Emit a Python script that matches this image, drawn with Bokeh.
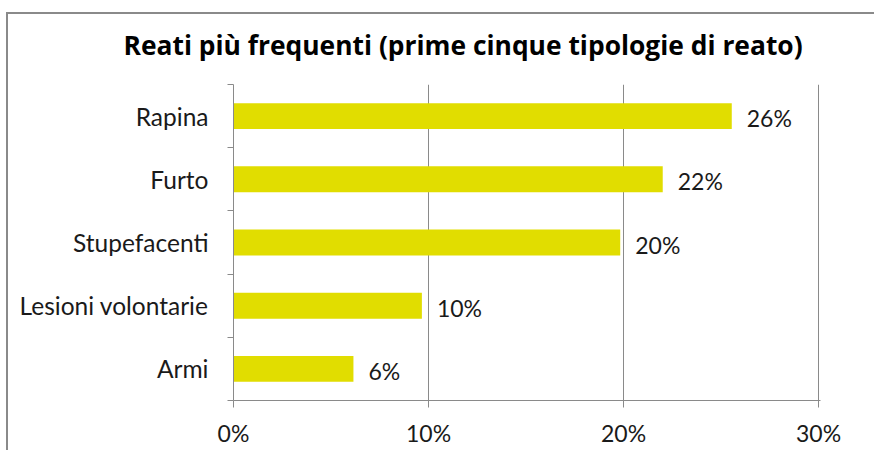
from bokeh.plotting import figure
from bokeh.models import Range1d, FixedTicker, ColumnDataSource
from bokeh.embed import file_html
from bokeh.resources import INLINE
from bokeh.core.properties import value

# ---- data ----
categories = ["Armi", "Lesioni volontarie", "Stupefacenti", "Furto", "Rapina"]
values = [6.15, 9.66, 19.83, 22.01, 25.55]
x_ticks = [0, 10, 20, 30]
x_tick_labels = ["0%", "10%", "20%", "30%"]
title_text = "Reati più frequenti (prime cinque tipologie di reato)"

positions = [i + 0.5 for i in range(len(categories))]
boundaries = list(range(len(categories) + 1))
labels = [f"{round(v)}%" for v in values]

src = ColumnDataSource(dict(y=positions, v=values, lab=labels))

FONT = "Lato"
GRAY = "#8a8a8a"
TXT = "#1a1a1a"

p = figure(
    frame_width=587, frame_height=316,
    min_border_left=227, min_border_right=54,
    min_border_top=84, min_border_bottom=50,
    x_range=Range1d(0, 30.1), y_range=Range1d(0, 5),
    output_backend="svg", toolbar_location=None,
    title=title_text,
)
# outer chart-area border (left and top edges visible in the window)
p.styles = {
    "margin-top": "0px",
    "margin-left": "6px",
    "background-image": f"linear-gradient({GRAY}, {GRAY}), linear-gradient({GRAY}, {GRAY})",
    "background-size": "100% 2px, 2px 100%",
    "background-position": "0 12px, 0 12px",
    "background-repeat": "no-repeat",
}

p.title.text_font = "Open Sans"
p.title.text_font_size = "26.4px"
p.title.text_font_style = "bold"
p.title.text_color = "#000000"
p.title.align = "left"
p.title.offset = -110
p.title.standoff = 43

p.outline_line_color = None
p.background_fill_color = "white"
p.border_fill_color = None

p.hbar(y="y", left=0, right="v", height=0.41, source=src,
       fill_color="#E1DD00", line_color=None)

p.text(x="v", y="y", text="lab", source=src, x_offset=15, y_offset=2,
       text_baseline="middle", text_align="left",
       text_font=value(FONT), text_font_size="23px", text_color=TXT)

# x axis
p.xaxis.ticker = FixedTicker(ticks=x_ticks, minor_ticks=[])
p.xaxis.major_label_overrides = {t: l for t, l in zip(x_ticks, x_tick_labels)}
p.xaxis.axis_line_color = GRAY
p.xaxis.major_tick_line_color = GRAY
p.xaxis.major_tick_out = 7
p.xaxis.major_tick_in = 0
p.xaxis.minor_tick_line_color = None
p.xaxis.major_label_text_font = FONT
p.xaxis.major_label_text_font_size = "23px"
p.xaxis.major_label_text_color = TXT
p.xaxis.major_label_standoff = 11

# y axis
p.yaxis.ticker = FixedTicker(ticks=positions, minor_ticks=boundaries)
p.yaxis.major_label_overrides = {pos: c for pos, c in zip(positions, categories)}
p.yaxis.axis_line_color = GRAY
p.yaxis.major_tick_line_color = None
p.yaxis.major_tick_out = 0
p.yaxis.major_tick_in = 0
p.yaxis.minor_tick_line_color = GRAY
p.yaxis.minor_tick_out = 6
p.yaxis.minor_tick_in = 0
p.yaxis.major_label_text_font = FONT
p.yaxis.major_label_text_font_size = "24.5px"
p.yaxis.major_label_text_color = TXT
p.yaxis.major_label_standoff = 19

# grid
p.ygrid.visible = False
p.xgrid.ticker = FixedTicker(ticks=x_ticks[1:])
p.xgrid.grid_line_color = GRAY
p.xgrid.grid_line_width = 1

open("out.html", "w").write(file_html(p, INLINE))
